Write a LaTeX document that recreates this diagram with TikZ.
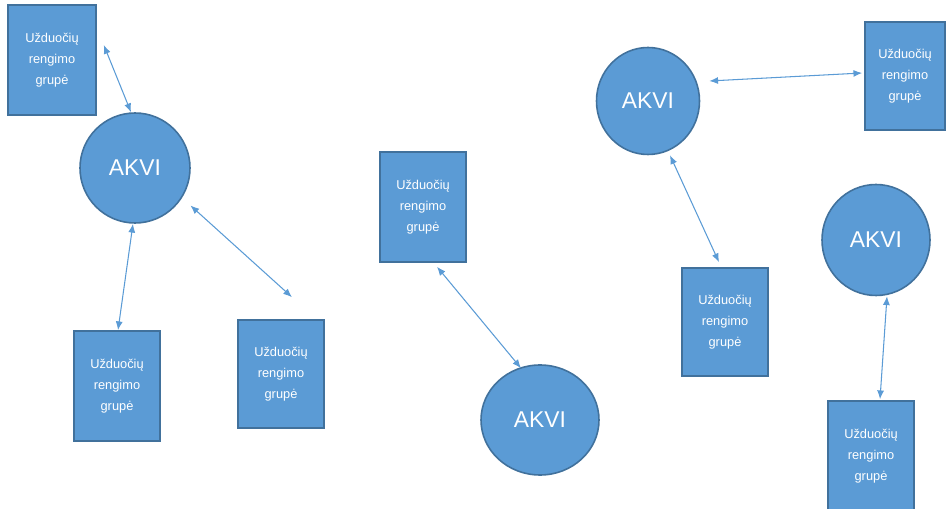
\documentclass[tikz,border=0pt]{standalone}
\usepackage{fontspec}
\setmainfont{Liberation Sans}
\usepackage{xcolor}
\definecolor{akviblue}{RGB}{91,155,213}
\definecolor{akviedge}{RGB}{65,113,156}
\usetikzlibrary{shapes.geometric,arrows.meta}

\begin{document}
\begin{tikzpicture}[
    x=0.02cm, y=-0.02cm,
    group/.style={rectangle, draw=akviedge, fill=akviblue, line width=0.9pt, text=white, minimum width=86*0.02cm, minimum height=110*0.02cm, align=center, font=\fontsize{7.3}{12}\selectfont, inner sep=0pt},
    akvi/.style={ellipse, draw=akviedge, fill=akviblue, line width=0.9pt, text=white, font=\fontsize{13}{15}\selectfont, inner sep=0pt},
    link/.style={{Latex[length=5pt,width=4pt]}-{Latex[length=5pt,width=4pt]}, akviblue, line width=0.6pt}
]
\useasboundingbox (0,0) rectangle (946,509);

% Groups
\node[group, minimum width=88*0.02cm] (grp1) at (52,60) {Užduočių\\rengimo\\grupė};
\node[group] (grp2) at (117,386) {Užduočių\\rengimo\\grupė};
\node[group, minimum height=108*0.02cm] (grp3) at (281,374) {Užduočių\\rengimo\\grupė};
\node[group] (grp4) at (423,207) {Užduočių\\rengimo\\grupė};
\node[group, minimum width=80*0.02cm, minimum height=108*0.02cm] (grp5) at (905,76) {Užduočių\\rengimo\\grupė};
\node[group, minimum height=108*0.02cm] (grp6) at (725,322) {Užduočių\\rengimo\\grupė};
\node[group] (grp7) at (871,456) {Užduočių\\rengimo\\grupė};

% AKVI
\node[akvi, minimum width=110*0.02cm, minimum height=110*0.02cm] (akvi1) at (135,168) {AKVI};
\node[akvi, minimum width=118*0.02cm, minimum height=110*0.02cm] (akvi2) at (540,420) {AKVI};
\node[akvi, minimum width=103*0.02cm, minimum height=107*0.02cm] (akvi3) at (648,101) {AKVI};
\node[akvi, minimum width=108*0.02cm, minimum height=111*0.02cm] (akvi4) at (876,240) {AKVI};

% Links
\draw[link] ([shift={(7,-15)}]grp1.east) -- ([shift={(-4,0)}]akvi1.north);
\draw[link] ([shift={(-2,0)}]akvi1.south) -- ([shift={(1,0)}]grp2.north);
\draw[link] ([shift={(16,-2)}]akvi1.south east) -- ([shift={(11,-22)}]grp3.north);
\draw[link] ([shift={(14,4)}]grp4.south) -- ([shift={(-19,4)}]akvi2.north);
\draw[link] ([shift={(9,-20)}]akvi3.east) -- ([shift={(-2,-3)}]grp5.west);
\draw[link] ([shift={(22,0)}]akvi3.south) -- ([shift={(-6,-5)}]grp6.north);
\draw[link] ([shift={(11,0)}]akvi4.south) -- ([shift={(9,-1)}]grp7.north);
\end{tikzpicture}
\end{document}
